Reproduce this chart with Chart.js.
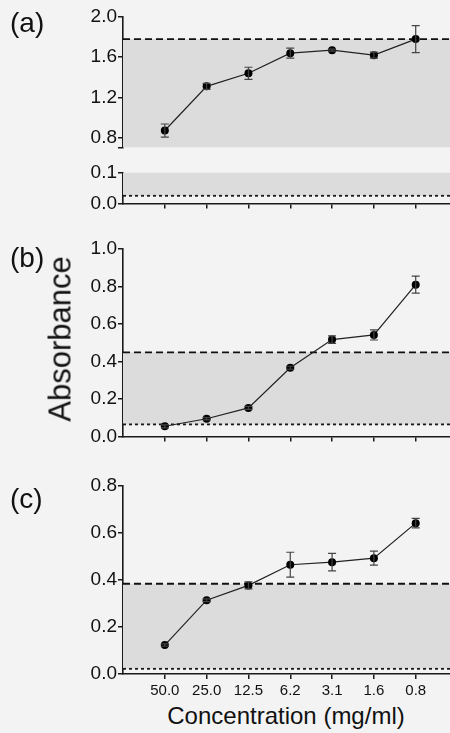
<!DOCTYPE html>
<html>
<head>
<meta charset="utf-8">
<script src="https://cdn.jsdelivr.net/npm/chart.js@4.4.1/dist/chart.umd.min.js"></script>
<style>
  html, body { margin: 0; padding: 0; background: #f3f3f3; }
  #fig { position: relative; width: 450px; height: 733px; background: #f3f3f3; overflow: hidden;
         font-family: "Liberation Sans", Arial, sans-serif; color: #111; }
  #fig canvas { position: absolute; left: 0; }
  .lbl { position: absolute; line-height: 1; white-space: nowrap; }
  .panel { font-size: 28px; left: 10px; }
  #ytitle { font-size: 31px; left: 60px; top: 339px; transform: translate(-50%, -50%) rotate(-90deg); }
  #xtitle { font-size: 24px; left: 286px; top: 716px; transform: translate(-50%, -50%); }
</style>
</head>
<body>
<div id="fig">
  <canvas id="cA1" width="450" height="160" style="top:0px"></canvas>
  <canvas id="cA2" width="450" height="56" style="top:160px"></canvas>
  <canvas id="cB" width="450" height="219" style="top:230px"></canvas>
  <canvas id="cC" width="450" height="230" style="top:470px"></canvas>
  <div class="lbl panel" style="top:9px">(a)</div>
  <div class="lbl panel" style="top:244px">(b)</div>
  <div class="lbl panel" style="top:485px">(c)</div>
  <div class="lbl" id="ytitle">Absorbance</div>
  <div class="lbl" id="xtitle">Concentration (mg/ml)</div>
</div>
<script>
// values
const concLabels = ["50.0", "25.0", "12.5", "6.2", "3.1", "1.6", "0.8"];

const meanA = [0.87, 1.31, 1.44, 1.64, 1.67, 1.62, 1.78];
const errA  = [0.065, 0.03, 0.06, 0.05, 0.01, 0.03, 0.135];
const meanB = [0.055, 0.095, 0.153, 0.367, 0.517, 0.542, 0.81];
const errB  = [0.008, 0.006, 0.008, 0.008, 0.02, 0.027, 0.045];
const meanC = [0.123, 0.314, 0.377, 0.465, 0.476, 0.493, 0.642];
const errC  = [0.005, 0.006, 0.015, 0.053, 0.037, 0.03, 0.02];

// dashed (upper) and dotted (lower) cut-offs for panels a, b, c
const upperCut = [1.78, 0.449, 0.384];
const lowerCut = [0.025, 0.065, 0.022];

const ticksA1 = [0.7, 0.8, 1.2, 1.6, 2.0];
const ticksA2 = [0.0, 0.1];
const ticksB  = [0.0, 0.2, 0.4, 0.6, 0.8, 1.0];
const ticksC  = [0.0, 0.2, 0.4, 0.6, 0.8];

const X_MAX = 7.82;
const axisColor = "#1a1a1a";
const fontFam = "'Liberation Sans', Arial, sans-serif";

const errorBars = {
  id: "errorBars",
  afterDatasetsDraw(chart, args, opts) {
    const { ctx, chartArea: a, scales: { x, y } } = chart;
    const means = opts.means, errs = opts.errs;
    ctx.save();
    ctx.beginPath();
    ctx.rect(a.left, a.top - 1, a.right - a.left, a.bottom - a.top + 2);
    ctx.clip();
    ctx.strokeStyle = "#444";
    ctx.lineWidth = 1.2;
    means.forEach((m, i) => {
      if (!errs[i]) return;
      const px = x.getPixelForValue(i + 1);
      const top = y.getPixelForValue(m + errs[i]);
      const bot = y.getPixelForValue(m - errs[i]);
      ctx.beginPath();
      ctx.moveTo(px, top); ctx.lineTo(px, bot);
      ctx.moveTo(px - 4, top); ctx.lineTo(px + 4, top);
      ctx.moveTo(px - 4, bot); ctx.lineTo(px + 4, bot);
      ctx.stroke();
    });
    ctx.restore();
  }
};

function makePanel(id, p) {
  const idx = p.panel;
  const hi = upperCut[idx], lo = lowerCut[idx];
  return new Chart(document.getElementById(id), {
    type: "line",
    data: {
      datasets: [
        {
          data: [{ x: 0, y: hi }, { x: X_MAX, y: hi }],
          borderColor: "#111", borderWidth: 1.8, borderDash: [7, 4],
          pointRadius: 0, fill: false, order: 1
        },
        {
          data: [{ x: 0, y: lo }, { x: X_MAX, y: lo }],
          borderColor: "#1a1a1a", borderWidth: 1.8, borderDash: [3, 3],
          pointRadius: 0, fill: "-1", backgroundColor: "#dcdcdc", order: 1
        },
        {
          data: p.means.map((m, i) => ({ x: i + 1, y: m })),
          borderColor: "#222", borderWidth: 1.2,
          pointRadius: 4, pointBackgroundColor: "#000", pointBorderWidth: 0,
          tension: 0, fill: false, order: 0
        }
      ]
    },
    options: {
      responsive: false,
      animation: false,
      events: [],
      layout: { autoPadding: false, padding: { top: p.padTop, right: 0, bottom: p.padBottom || 0, left: 0 } },
      plugins: {
        legend: { display: false },
        tooltip: { enabled: false },
        errorBars: { means: p.means, errs: p.errs }
      },
      scales: {
        x: {
          type: "linear",
          display: p.showX,
          min: 0, max: X_MAX,
          afterBuildTicks: s => { s.ticks = concLabels.map((_, i) => ({ value: i + 1 })); },
          afterFit: s => { s.height = p.xHeight || 0; },
          ticks: {
            display: !!p.xLabels,
            callback: v => concLabels[Math.round(v) - 1],
            autoSkip: false, maxRotation: 0,
            color: "#111", padding: 3,
            font: { size: 15, family: fontFam }
          },
          grid: { drawOnChartArea: false, drawTicks: true, tickLength: 5, color: axisColor, lineWidth: 1.5 },
          border: { display: true, color: axisColor, width: 1.6 }
        },
        y: {
          min: p.yMin, max: p.yMax,
          afterBuildTicks: s => { s.ticks = p.yTicks.map(v => ({ value: v })); },
          afterFit: s => { s.width = 123; },
          ticks: {
            callback: v => (p.hideTick && Math.abs(v - p.hideTick) < 1e-9) ? "" : v.toFixed(1),
            color: "#111", padding: 1,
            font: { size: 19, family: fontFam }
          },
          grid: { drawOnChartArea: false, drawTicks: true, tickLength: 5, color: axisColor, lineWidth: 1.5 },
          border: { display: true, color: axisColor, width: 1.6 }
        }
      }
    },
    plugins: [errorBars]
  });
}

makePanel("cA1", { panel: 0, means: meanA, errs: errA, yMin: 0.7, yMax: 2.0, yTicks: ticksA1, hideTick: 0.7,
                   showX: false, padTop: 17, padBottom: 4 });
makePanel("cA2", { panel: 0, means: meanA, errs: errA, yMin: 0, yMax: 0.1, yTicks: ticksA2,
                   showX: true, xLabels: false, xHeight: 10, padTop: 11 });
makePanel("cB",  { panel: 1, means: meanB, errs: errB, yMin: 0, yMax: 1.0, yTicks: ticksB,
                   showX: true, xLabels: false, xHeight: 10, padTop: 19 });
makePanel("cC",  { panel: 2, means: meanC, errs: errC, yMin: 0, yMax: 0.8, yTicks: ticksC,
                   showX: true, xLabels: true, xHeight: 26, padTop: 16 });
</script>
</body>
</html>
